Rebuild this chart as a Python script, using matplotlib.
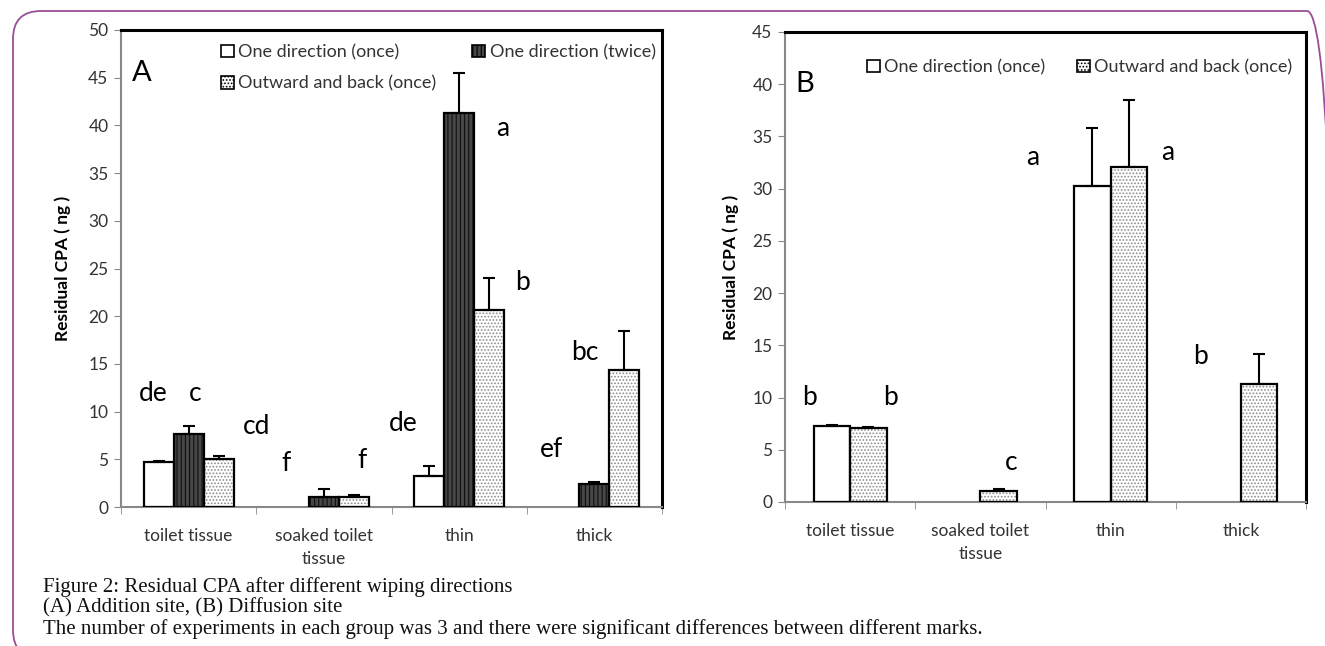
import numpy as np
import matplotlib.pyplot as plt
from matplotlib.patches import Patch, FancyBboxPatch
from matplotlib.transforms import IdentityTransform

plt.rcParams['font.family'] = ['Lato', 'DejaVu Sans']
plt.rcParams['hatch.linewidth'] = 0.8

categories = ['toilet tissue', 'soaked toilet\ntissue', 'thin', 'thick']
nan = np.nan

# panel A - addition site
a_once = [4.7, nan, 3.3, nan]
a_once_err = [0.1, nan, 1.0, nan]
a_twice = [7.7, 1.1, 41.3, 2.4]
a_twice_err = [0.8, 0.8, 4.2, 0.2]
a_back = [5.0, 1.0, 20.6, 14.4]
a_back_err = [0.3, 0.3, 3.4, 4.1]
a_marks = ['de', 'c', 'cd', 'f', 'f', 'de', 'a', 'b', 'ef', 'bc']
a_mark_x = [-0.26, 0.05, 0.50, 0.72, 1.28, 1.59, 2.32, 2.47, 2.68, 2.93]
a_mark_y = [11.9, 11.9, 8.4, 4.6, 4.9, 8.8, 39.7, 23.5, 6.0, 16.2]

# panel B - diffusion site
b_once = [7.3, nan, 30.3, nan]
b_once_err = [0.1, nan, 5.5, nan]
b_back = [7.1, 1.1, 32.1, 11.3]
b_back_err = [0.1, 0.1, 6.4, 2.9]
b_marks = ['b', 'b', 'c', 'a', 'a', 'b']
b_mark_x = [-0.31, 0.31, 1.24, 1.40, 2.44, 2.69]
b_mark_y = [10.0, 10.0, 3.8, 33.0, 33.5, 13.9]

styles = {
    'once': dict(facecolor='white', hatch=None, hcol='black'),
    'twice': dict(facecolor='#474747', hatch='||||', hcol='#101010'),
    'back': dict(facecolor='white', hatch='.....', hcol='#8c8c8c'),
}
labels = {'once': 'One direction (once)', 'twice': 'One direction (twice)',
          'back': 'Outward and back (once)'}


def draw_bars(ax, x, vals, errs, key, w):
    st = styles[key]
    ax.bar(x, vals, w, color=st['facecolor'], hatch=st['hatch'],
           edgecolor=st['hcol'], linewidth=0, zorder=2)
    ax.bar(x, vals, w, fill=False, edgecolor='black', linewidth=1.6, zorder=3)
    ax.errorbar(x, vals, yerr=[np.zeros(len(vals)), errs], fmt='none',
                ecolor='black', elinewidth=1.5, capsize=4, capthick=1.5, zorder=4)


def proxy(key):
    st = styles[key]
    return Patch(facecolor=st['facecolor'], hatch=st['hatch'],
                 edgecolor='black', linewidth=1.2)


def style_axis(ax, top, labelx):
    ax.set_xlim(-0.5, 3.5)
    ax.set_ylim(0, top)
    ax.set_yticks(np.arange(0, top + 1, 5))
    ax.set_xticks(range(4))
    ax.set_xticklabels(categories, linespacing=1.55)
    ax.set_xticks(np.arange(-0.5, 4, 1), minor=True)
    ax.tick_params(axis='x', which='major', length=0, pad=15, labelsize=12.5,
                   labelcolor='#333333')
    ax.tick_params(axis='x', which='minor', length=5, color='#888888', direction='out')
    ax.tick_params(axis='y', length=5, color='#888888', labelsize=12.5,
                   labelcolor='#333333', pad=4)
    for s in ['left', 'bottom']:
        ax.spines[s].set_color('#888888')
        ax.spines[s].set_linewidth(1.5)
    for s in ['top', 'right']:
        ax.spines[s].set_color('black')
        ax.spines[s].set_linewidth(2.2)
    ax.set_ylabel('Residual CPA ( ng )', fontsize=12.5, fontweight='bold')
    ax.yaxis.set_label_coords(labelx, 0.5)


fig = plt.figure(figsize=(13.25, 6.46), dpi=100)
axA = fig.add_axes([121 / 1325, 1 - 507 / 646, 541 / 1325, 477 / 646])
axB = fig.add_axes([785 / 1325, 1 - 502 / 646, 521 / 1325, 470 / 646])

x = np.arange(4)
wA = 0.222
draw_bars(axA, x - wA, a_once, a_once_err, 'once', wA)
draw_bars(axA, x, a_twice, a_twice_err, 'twice', wA)
draw_bars(axA, x + wA, a_back, a_back_err, 'back', wA)
style_axis(axA, 50, -0.092)
for t, mx, my in zip(a_marks, a_mark_x, a_mark_y):
    axA.text(mx, my, t, fontsize=19, ha='center', va='center')
axA.text(-0.35, 45.5, 'A', fontsize=21, ha='center', va='center')
axA.legend([proxy('once'), proxy('back'), proxy('twice')],
           [labels['once'], labels['back'], labels['twice']],
           ncol=2, loc='upper left', bbox_to_anchor=(0.185, 0.97),
           frameon=False, fontsize=13, handlelength=0.7, handleheight=0.7,
           handletextpad=0.25, columnspacing=2.0, labelspacing=0.85,
           borderpad=0, borderaxespad=0, labelcolor='#333333')

wB = 0.28
draw_bars(axB, x - wB / 2, b_once, b_once_err, 'once', wB)
draw_bars(axB, x + wB / 2, b_back, b_back_err, 'back', wB)
style_axis(axB, 45, -0.088)
for t, mx, my in zip(b_marks, b_mark_x, b_mark_y):
    axB.text(mx, my, t, fontsize=19, ha='center', va='center')
axB.text(-0.35, 40, 'B', fontsize=21, ha='center', va='center')
axB.legend([proxy('once'), proxy('back')],
           [labels['once'], labels['back']],
           ncol=2, loc='upper left', bbox_to_anchor=(0.158, 0.942),
           frameon=False, fontsize=13, handlelength=0.7, handleheight=0.7,
           handletextpad=0.25, columnspacing=1.75,
           borderpad=0, borderaxespad=0, labelcolor='#333333')

# caption
caption = ['Figure 2: Residual CPA after different wiping directions',
           '(A) Addition site, (B) Diffusion site',
           'The number of experiments in each group was 3 and there were '
           'significant differences between different marks.']
for i, line in enumerate(caption):
    fig.text(43 / 1325, 1 - (587 + 21 * i) / 646, line, fontsize=15,
             family='Liberation Serif', va='center', ha='left', color='#111111')

# purple page border
border = FancyBboxPatch((13, -12), 1322, 647, boxstyle='round,pad=0,rounding_size=28',
                        transform=IdentityTransform(), fill=False,
                        edgecolor='#9a4d97', linewidth=1.3)
fig.add_artist(border)

fig.savefig('out.png', dpi=100)
